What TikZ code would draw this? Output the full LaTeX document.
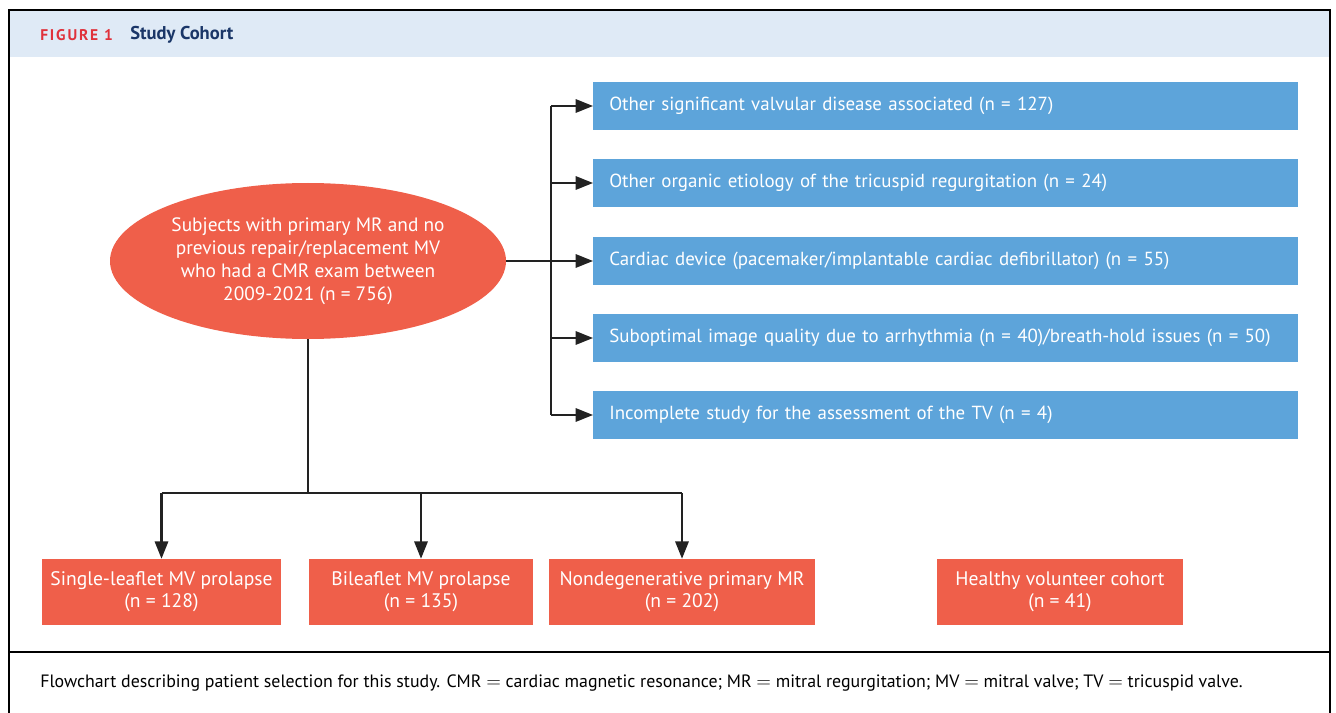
\documentclass[tikz,border=0pt]{standalone}
\usepackage{fontspec}
\setmainfont{PT Sans}
\usetikzlibrary{arrows.meta,shapes.geometric}
\definecolor{scoRed}{HTML}{EF5F4A}
\definecolor{scoBlue}{HTML}{5DA4DA}
\definecolor{scoPale}{HTML}{DFEAF6}
\definecolor{scoNavy}{HTML}{1A3668}
\definecolor{scoTag}{HTML}{E0313B}
\definecolor{scoInk}{HTML}{222222}
\tikzset{
  sco frame/.style={draw=black, line width=1.5pt},
  sco link/.style={draw=scoInk, line width=1.6pt},
  sco arrow/.style={sco link, -{Triangle[length=13pt, width=10pt]}},
  sco oval/.style={ellipse, fill=scoRed, text=white, minimum width=297pt, minimum height=117pt, inner sep=0pt, align=center, font=\fontsize{14.5}{17.3}\selectfont},
  sco excl/.style={rectangle, fill=scoBlue, text=white, anchor=west, minimum height=36pt, text width=504.75pt, inner xsep=12pt, align=left, font=\fontsize{14.2}{17}\selectfont},
  sco group/.style={rectangle, fill=scoRed, text=white, minimum height=49.5pt, inner sep=0pt, align=center, font=\fontsize{14.7}{16.5}\selectfont},
}

\begin{document}
\begin{tikzpicture}[x=0.75pt,y=-0.75pt]
  \useasboundingbox (0,0) rectangle (1336,713);
  % header band and frame
  \fill[scoPale] (10,11) rectangle (1329,57);
  \draw[sco frame] (9,713) -- (9,10) -- (1330,10) -- (1330,713);
  \draw[sco frame] (9,652) -- (1330,652);
  \node[anchor=west, inner sep=0pt, text=scoTag, font=\bfseries\fontsize{11.6}{13}\selectfont\addfontfeatures{LetterSpace=12}] (tag) at (40,35) {FIGURE 1};
  \node[anchor=west, text=scoNavy, font=\bfseries\fontsize{13.9}{15}\selectfont, inner sep=0pt] (title) at (130,35) {Study Cohort};

  % source population
  \node[sco oval] (pop) at (308,261) {Subjects with primary MR and no\\previous repair/replacement MV\\who had a CMR exam between\\2009-2021 (n = 756)};

  % exclusions
  \node[sco excl] (ex1) at (593,106) {Other significant valvular disease associated (n = 127)};
  \node[sco excl] (ex2) at (593,183) {Other organic etiology of the tricuspid regurgitation (n = 24)};
  \node[sco excl] (ex3) at (593,261) {Cardiac device (pacemaker/implantable cardiac defibrillator) (n = 55)};
  \node[sco excl] (ex4) at (593,338) {Suboptimal image quality due to arrhythmia (n = 40)/breath-hold issues (n = 50)};
  \node[sco excl] (ex5) at (593,415) {Incomplete study for the assessment of the TV (n = 4)};

  % final groups
  \node[sco group, minimum width=179.25pt] (g1) at (161.5,592) {Single-leaflet MV prolapse\\(n = 128)};
  \node[sco group, minimum width=168pt] (g2) at (421,592) {Bileaflet MV prolapse\\(n = 135)};
  \node[sco group, minimum width=199.5pt] (g3) at (682,592) {Nondegenerative primary MR\\(n = 202)};
  \node[sco group, minimum width=184.5pt] (g4) at (1060,592) {Healthy volunteer cohort\\(n = 41)};

  % connectors
  \coordinate (trunk) at (551,261);
  \coordinate (split) at (308,493);
  \draw[sco link] (pop.east) -- (trunk);
  \draw[sco link] (ex1.west -| trunk) -- (ex5.west -| trunk);
  \foreach \i in {1,...,5}
    \draw[sco arrow] (ex\i.west -| trunk) -- (ex\i.west);
  \draw[sco link] (pop.south) -- (split);
  \draw[sco link] (g1.north |- split) -- (g3.north |- split);
  \foreach \i in {1,2,3}
    \draw[sco arrow] (g\i.north |- split) -- (g\i.north);

  % caption
  \node[anchor=west, inner sep=0pt, font=\fontsize{13.4}{15}\selectfont] (caption) at (40,683) {Flowchart describing patient selection for this study. CMR $=$ cardiac magnetic resonance; MR $=$ mitral regurgitation; MV $=$ mitral valve; TV $=$ tricuspid valve.};
\end{tikzpicture}
\end{document}
